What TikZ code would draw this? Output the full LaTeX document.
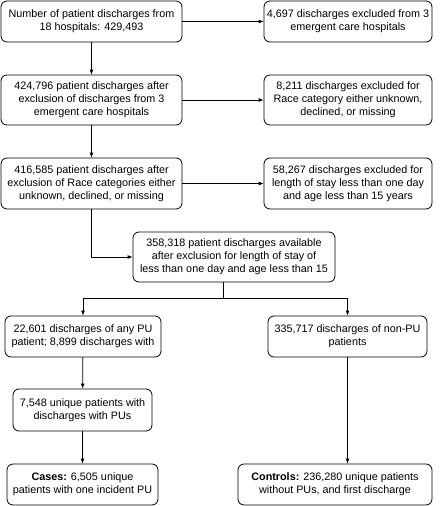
\documentclass[tikz,border=0pt]{standalone}
\usepackage{fontspec}
\setmainfont{Liberation Sans}
\usetikzlibrary{arrows.meta}
\begin{document}
\begin{tikzpicture}[x=1pt,y=-1pt,
  box/.style={draw, rounded corners=6pt, line width=0.8pt, align=center,
    inner sep=0pt, font=\fontsize{10.8}{13}\selectfont},
  >={Latex[length=5pt,width=4pt]}, line width=0.8pt]
  \useasboundingbox (0,0) rectangle (440,506);
  \node[box, minimum width=181pt, minimum height=41pt] (all) at (91.5,21.5) {Number of patient discharges from\\18 hospitals: 429,493};
  \node[box, minimum width=168pt, minimum height=41pt] (excl1) at (348,21.5) {4,697 discharges excluded from 3\\emergent care hospitals};
  \node[box, minimum width=181pt, minimum height=50pt] (after1) at (91.5,100) {424,796 patient discharges after\\exclusion of discharges from 3\\emergent care hospitals};
  \node[box, minimum width=168pt, minimum height=50pt] (excl2) at (348,100) {8,211 discharges excluded for\\Race category either unknown,\\declined, or missing};
  \node[box, minimum width=181pt, minimum height=51pt] (after2) at (91.5,183.5) {416,585 patient discharges after\\exclusion of Race categories either\\unknown, declined, or missing};
  \node[box, minimum width=168pt, minimum height=51pt] (excl3) at (348,183.5) {58,267 discharges excluded for\\length of stay less than one day\\and age less than 15 years};
  \node[box, minimum width=202pt, minimum height=50pt] (avail) at (234,257) {358,318 patient discharges available\\after exclusion for length of stay of\\less than one day and age less than 15};
  \node[box, minimum width=156pt, minimum height=41pt] (pu) at (83,336.5) {22,601 discharges of any PU\\patient; 8,899 discharges with};
  \node[box, minimum width=159pt, minimum height=41pt] (nonpu) at (347.5,336.5) {335,717 discharges of non-PU\\patients};
  \node[box, minimum width=139pt, minimum height=42pt] (uniq) at (82.5,410) {7,548 unique patients with\\discharges with PUs};
  \node[box, minimum width=151pt, minimum height=41pt] (cases) at (82.5,484.5) {\textbf{Cases:} 6,505 unique\\patients with one incident PU};
  \node[box, minimum width=194pt, minimum height=41pt] (ctrl) at (335,484.5) {\textbf{Controls:} 236,280 unique patients\\without PUs, and first discharge};
  \coordinate (fork) at (223,298);
  \draw [->] (all) -- (excl1);
  \draw [->] (after1) -- (excl2);
  \draw [->] (after2) -- (excl3);
  \draw [->] (all) -- (after1);
  \draw [->] (after1) -- (after2);
  \draw [->] (after2.south) |- (avail.west);
  \draw (avail.south -| fork) -- (fork);
  \draw [->] (fork) -| (pu.north);
  \draw [->] (fork) -| (nonpu.north);
  \draw [->] (pu) -- (uniq);
  \draw [->] (uniq) -- (cases);
  \draw [->] (nonpu.south) -- (nonpu.south |- ctrl.north);
\end{tikzpicture}
\end{document}
